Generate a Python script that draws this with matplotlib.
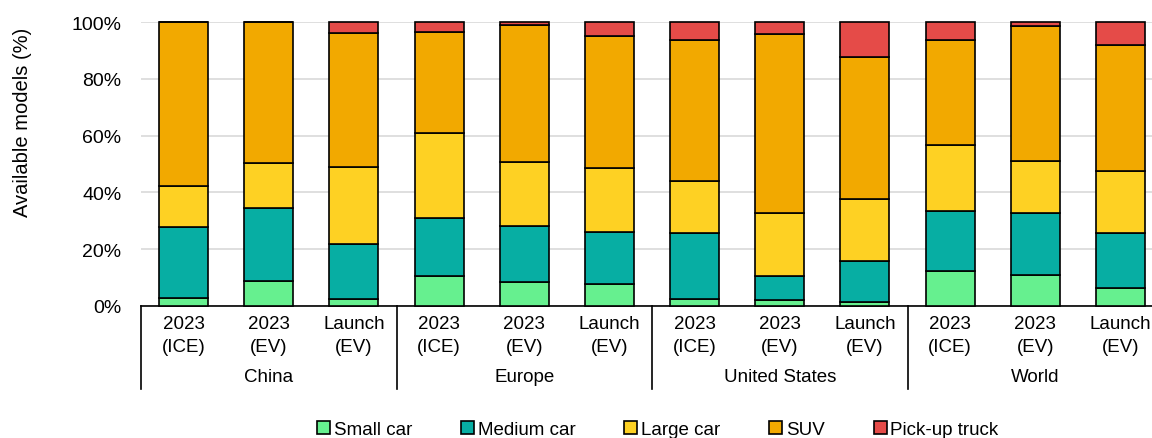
import numpy as np
import matplotlib
matplotlib.use("Agg")
import matplotlib.pyplot as plt

plt.rcParams["font.family"] = ["Liberation Sans", "DejaVu Sans"]

# Data (shares of available models, %)
regions = ["China", "Europe", "United States", "World"]
sub_top = ["2023", "2023", "Launch"]
sub_bottom = ["(ICE)", "(EV)", "(EV)"]

series = ["Small car", "Medium car", "Large car", "SUV", "Pick-up truck"]
colors = ["#66F08F", "#07AEA3", "#FED123", "#F2A900", "#E54B48"]

small_car = [2.8, 8.7, 2.3, 10.7, 8.3, 7.6, 2.6, 2.0, 1.5, 12.2, 10.9, 6.3]
medium_car = [24.9, 25.7, 19.4, 20.4, 19.8, 18.3, 23.1, 8.7, 14.3, 21.4, 22.0, 19.4]
large_car = [14.7, 16.1, 27.1, 29.7, 22.5, 22.7, 18.4, 22.2, 21.9, 23.0, 18.3, 21.9]
suv = [57.6, 49.5, 47.4, 35.8, 48.3, 46.4, 49.7, 62.7, 50.1, 37.2, 47.4, 44.4]
pickup = [0.0, 0.0, 3.8, 3.4, 1.1, 5.0, 6.2, 4.4, 12.2, 6.2, 1.4, 8.0]

values = [small_car, medium_car, large_car, suv, pickup]

fig = plt.figure(figsize=(11.52, 4.39), dpi=100)
ax = fig.add_axes([0.1224, 0.3007, 0.8872, 0.6469])

x = np.arange(len(small_car))
bottom = np.zeros(len(x))
for name, vals, col in zip(series, values, colors):
    vals = np.array(vals)
    ax.bar(x, vals, 0.575, bottom=bottom, color=col, edgecolor="black",
           linewidth=1.2, label=name, zorder=3, clip_on=False)
    bottom += vals

ax.set_xlim(-0.5, len(x) - 0.5)
ax.set_ylim(0, 100)
ax.set_yticks(np.arange(0, 101, 20))
ax.set_yticklabels([f"{v}%" for v in range(0, 101, 20)])
ax.yaxis.grid(True, color="#d9d9d9", linewidth=1.2, zorder=0)
ax.tick_params(axis="y", length=0, pad=14, labelsize=14)
ax.set_xticks([])
for s in ["left", "right", "top"]:
    ax.spines[s].set_visible(False)
ax.spines["bottom"].set_linewidth(1.2)

# y label sits a bit above the axis centre in the original
fig.text(23 / 1152, 1 - 122 / 439, "Available models (%)", rotation=90,
         ha="center", va="center", fontsize=14.5)

# multi-level category labels
trans = ax.get_xaxis_transform()
for i in x:
    ax.text(i, -0.063, sub_top[i % 3], transform=trans, ha="center", va="center", fontsize=13.5)
    ax.text(i, -0.141, sub_bottom[i % 3], transform=trans, ha="center", va="center", fontsize=13.5)
for g, name in enumerate(regions):
    ax.text(g * 3 + 1, -0.25, name, transform=trans, ha="center", va="center", fontsize=13.5)
for g in range(len(regions) + 1):
    ax.plot([g * 3 - 0.5] * 2, [0, -0.292], transform=trans, color="black",
            linewidth=1.2, clip_on=False)

fig.legend(loc="center", bbox_to_anchor=(0.571, 0.02), ncol=5, frameon=False,
           fontsize=13.5, handlelength=0.7, handleheight=0.7, handletextpad=0.2,
           columnspacing=2.6)

fig.savefig("out.png", dpi=100)
